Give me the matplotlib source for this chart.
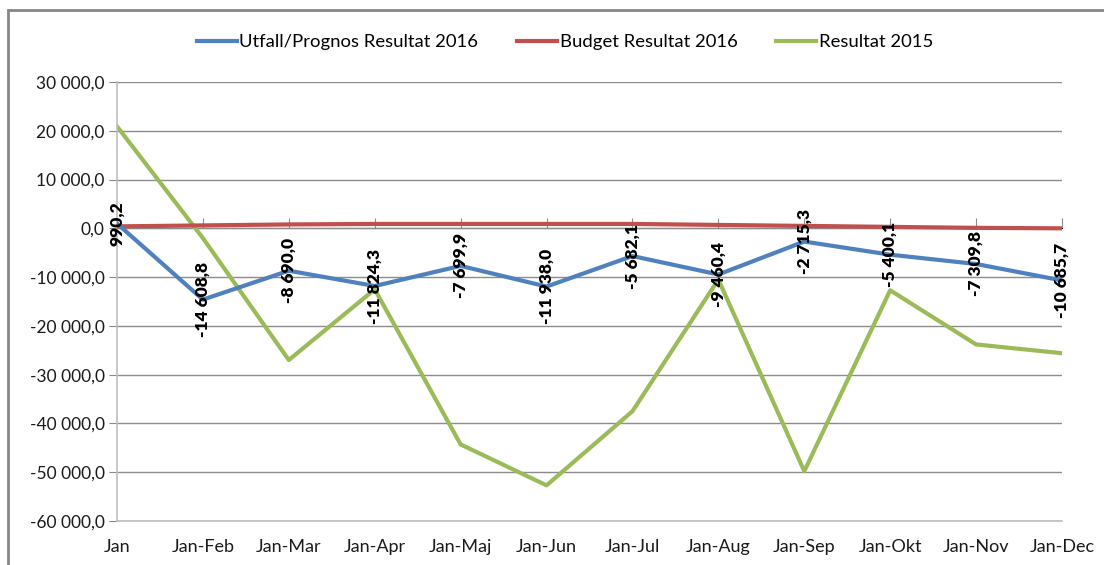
import matplotlib
matplotlib.use("Agg")
import matplotlib.pyplot as plt
from matplotlib.patches import Rectangle

categories = ["Jan", "Jan-Feb", "Jan-Mar", "Jan-Apr", "Jan-Maj", "Jan-Jun",
              "Jan-Jul", "Jan-Aug", "Jan-Sep", "Jan-Okt", "Jan-Nov", "Jan-Dec"]
utfall_2016 = [990.2, -14608.8, -8690.0, -11824.3, -7699.9, -11938.0,
               -5682.1, -9460.4, -2715.3, -5400.1, -7309.8, -10685.7]
budget_2016 = [400, 600, 800, 900, 900, 900, 900, 700, 500, 300, 100, 0]
resultat_2015 = [20900, -2000, -27000, -12500, -44300, -52700,
                 -37500, -10500, -49800, -12700, -23800, -25600]
yticks = [30000, 20000, 10000, 0, -10000, -20000, -30000, -40000, -50000, -60000]

def fmt(v):
    s = f"{abs(v):,.1f}".replace(",", " ").replace(".", ",")
    return ("-" if v < 0 else "") + s

plt.rcParams['font.family'] = ['Lato', 'DejaVu Sans']

fig = plt.figure(figsize=(11.04, 5.65), dpi=100)
ax = fig.add_axes([117/1104, 1-521/565, (1062-117)/1104, (521-82)/565])

x = list(range(len(categories)))
blue, red, green = "#4F81BD", "#C0504D", "#9BBB59"
ax.plot(x, utfall_2016, color=blue, lw=3, label="Utfall/Prognos Resultat 2016", zorder=4)
ax.plot(x, budget_2016, color=red, lw=3, label="Budget Resultat 2016", zorder=3)
ax.plot(x, resultat_2015, color=green, lw=3, label="Resultat 2015", zorder=2)

for xi, v in zip(x, utfall_2016):
    ax.annotate(fmt(v), (xi, v), rotation=90, ha="center", va="center",
                fontsize=12.5, fontweight="heavy", color="black", zorder=6)

ax.set_xlim(0, len(categories) - 1)
ax.set_ylim(-60000, 30000)
ax.set_yticks(yticks)
ax.set_yticklabels([fmt(v) for v in yticks], fontsize=12.5, color="#1a1a1a")
ax.set_xticks(x)
ax.set_xticklabels(categories, fontsize=13, color="#1a1a1a")
ax.tick_params(axis="x", length=0, pad=13)
ax.tick_params(axis="y", length=6, color="#868686", pad=3)

ax.grid(axis="y", color="#8c8c8c", lw=1)
ax.set_axisbelow(True)
for s in ["top", "right"]:
    ax.spines[s].set_visible(False)
ax.spines["left"].set_color("#bfbfbf")
ax.spines["bottom"].set_color("#bfbfbf")
ax.spines["left"].set_linewidth(1.2)
ax.spines["bottom"].set_linewidth(1.2)

sec = ax.secondary_xaxis(2/3)
sec.set_xticks(x)
sec.set_xticklabels([])
sec.tick_params(axis="x", length=7, color="#8c8c8c", direction="out")
sec.spines["bottom"].set_color("#8c8c8c")

leg = fig.legend(loc="center", bbox_to_anchor=(565/1104, 1-42/565), ncol=3,
                 frameon=False, fontsize=13.3, handlelength=2.15, handletextpad=0.15,
                 columnspacing=2.1)

fig.patches.append(Rectangle((8/1104, -0.05), 1.1, 1-10/565+0.05,
                             transform=fig.transFigure, fill=False,
                             edgecolor="#868686", lw=2))

fig.savefig("out.png", dpi=100)
